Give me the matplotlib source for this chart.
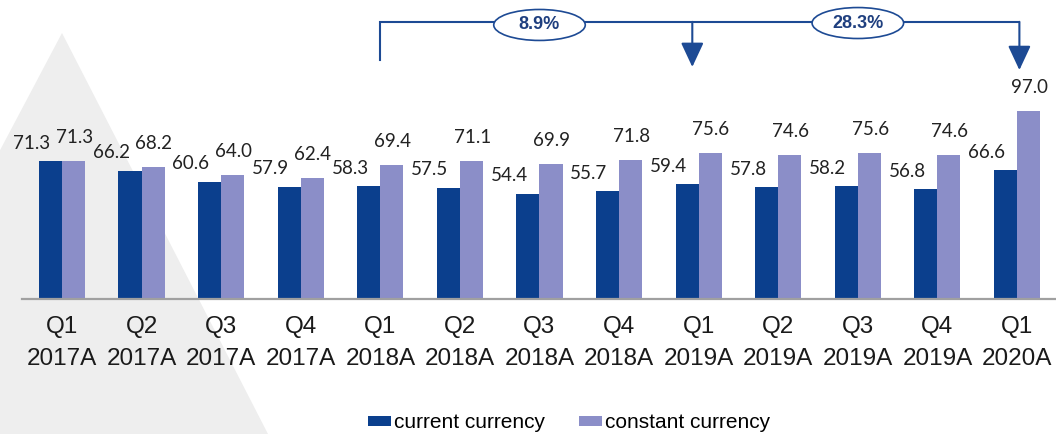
import matplotlib
matplotlib.use("Agg")
import matplotlib.pyplot as plt
from matplotlib.patches import Polygon, Ellipse
import numpy as np

quarters = ["Q1", "Q2", "Q3", "Q4", "Q1", "Q2", "Q3", "Q4", "Q1", "Q2", "Q3", "Q4", "Q1"]
years = ["2017A"] * 4 + ["2018A"] * 4 + ["2019A"] * 4 + ["2020A"]
current = [71.3, 66.2, 60.6, 57.9, 58.3, 57.5, 54.4, 55.7, 59.4, 57.8, 58.2, 56.8, 66.6]
constant = [71.3, 68.2, 64.0, 62.4, 69.4, 71.1, 69.9, 71.8, 75.6, 74.6, 75.6, 74.6, 97.0]
growth_labels = ["8.9%", "28.3%"]

dark = "#0b3f8d"
light = "#8b8ec8"
line_col = "#1d4a94"

W, H = 1056, 434
fig = plt.figure(figsize=(W / 100, H / 100), dpi=100)

# grey watermark triangle in the background
tri = Polygon([(62 / W, 1 - 33 / H), (268 / W, 0), (-150 / W, 0)],
              closed=True, transform=fig.transFigure, facecolor="#eeeeee",
              edgecolor="none", zorder=-1)
fig.add_artist(tri)

ax = fig.add_axes([22 / W, 1 - 299 / H, 1 - 22 / W, 299 / H])
ax.set_facecolor("none")

x = np.arange(len(current))
w = 0.29
ax.bar(x - w / 2, current, w, color=dark, label="current currency")
ax.bar(x + w / 2, constant, w, color=light, label="constant currency")

lab_font = dict(family="Lato", fontsize=13.5, color="#222222")
for xi, v in zip(x, current):
    ax.annotate(f"{v:.1f}", (xi - w / 2, v), xytext=(-13.5, 9), textcoords="offset points",
                ha="center", va="baseline", **lab_font)
for xi, v in zip(x, constant):
    ax.annotate(f"{v:.1f}", (xi + w / 2, v), xytext=(0.5, 13), textcoords="offset points",
                ha="center", va="baseline", **lab_font)

ax.set_xlim(-0.5025, 12.49)
ax.set_ylim(0, 154.5)
ax.set_yticks([])
for s in ["top", "right", "left"]:
    ax.spines[s].set_visible(False)
ax.spines["bottom"].set_color("#a0a0a0")
ax.spines["bottom"].set_linewidth(1.6)
ax.set_xticks(x)
ax.set_xticklabels([f"{q}\n{y}" for q, y in zip(quarters, years)],
                   family="Liberation Sans", fontsize=17.5, color="#1a1a1a", linespacing=1.6)
ax.tick_params(axis="x", length=0, pad=12)

# bracket with growth arrows
y_top = 143.2
ax.plot([4, 4, 12.03], [123.5, y_top, y_top], color=line_col, lw=1.5,
        solid_joinstyle="miter", clip_on=False, zorder=3)
for xa, ya in [(7.92, 119.9), (12.03, 118.3)]:
    ax.annotate("", xy=(xa, ya), xytext=(xa, y_top),
                arrowprops=dict(arrowstyle="-|>,head_length=0.75,head_width=0.35",
                                color=line_col, lw=1.5, mutation_scale=20,
                                shrinkA=0, shrinkB=0), annotation_clip=False)
for (xe, ye), txt in zip([(6.0, 141.6), (10.0, 142.6)], growth_labels):
    ax.add_patch(Ellipse((xe, ye), 1.15, 16, facecolor="white", edgecolor=line_col,
                         lw=1.2, zorder=4, clip_on=False))
    ax.text(xe, ye, txt, ha="center", va="center", fontsize=13, fontweight="bold",
            family="Liberation Sans", color="#1f3f7f", zorder=5)

fig.legend(loc="center", bbox_to_anchor=(569 / W, 1 - 423 / H), ncol=2, frameon=False,
           prop=dict(family="Liberation Sans", size=15), handlelength=1.1,
           handleheight=0.42, handletextpad=0.15, columnspacing=1.6)

fig.savefig("out.png", dpi=100)
